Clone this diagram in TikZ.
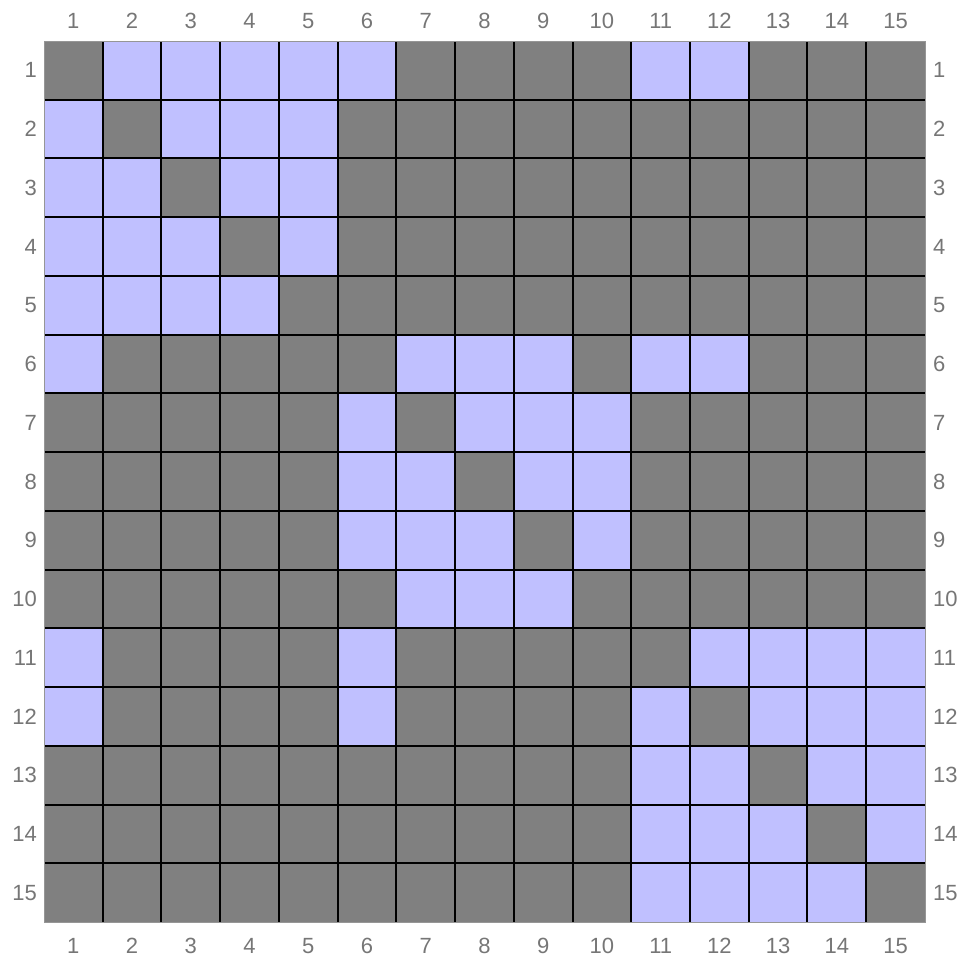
\documentclass[tikz,border=0pt]{standalone}
\usepackage{fontspec}
\setmainfont{Liberation Sans}
\usepackage{xcolor}
\definecolor{cellon}{RGB}{192,192,255}
\definecolor{celloff}{RGB}{128,128,128}
\definecolor{ticktext}{RGB}{118,118,118}
\definecolor{frame}{RGB}{150,150,150}

\begin{document}
\begin{tikzpicture}[x=1pt, y=-1pt,
    tick/.style={text=ticktext, font=\fontsize{22}{22}\selectfont, inner sep=0pt},
    gridline/.style={black, line width=2pt},
    outline/.style={frame, line width=1pt}
]
\useasboundingbox (0,0) rectangle (967,962);
\def\cs{58.73}
% gray background of the matrix
\fill[celloff] (44,41) rectangle (925,922);
% lavender entries, row by row
\foreach \r/\cols in {1/{2,3,4,5,6,11,12}, 2/{1,3,4,5}, 3/{1,2,4,5}, 4/{1,2,3,5}, 5/{1,2,3,4},
    6/{1,7,8,9,11,12}, 7/{6,8,9,10}, 8/{6,7,9,10}, 9/{6,7,8,10}, 10/{7,8,9},
    11/{1,6,12,13,14,15}, 12/{1,6,11,13,14,15}, 13/{11,12,14,15}, 14/{11,12,13,15}, 15/{11,12,13,14}}{
  \foreach \c in \cols {
    \fill[cellon] ({44+(\c-1)*\cs},{41+(\r-1)*\cs}) rectangle ++(\cs,\cs);
  }
}
% grid lines
\foreach \k in {1,...,14} {
  \draw[gridline] ({44+\k*\cs},41) -- ({44+\k*\cs},922);
  \draw[gridline] (44,{41+\k*\cs}) -- (925,{41+\k*\cs});
}
\draw[outline] (44,41) rectangle (925,922);
% tick labels
\foreach \k in {1,...,15} {
  \node[tick] (t\k) at ({44+(\k-0.5)*\cs},21) {\k};
  \node[tick] (b\k) at ({44+(\k-0.5)*\cs},946) {\k};
  \node[tick, anchor=east] (l\k) at (37,{41+(\k-0.5)*\cs}) {\k};
  \node[tick, anchor=west] (r\k) at (933,{41+(\k-0.5)*\cs}) {\k};
}
\end{tikzpicture}
\end{document}
